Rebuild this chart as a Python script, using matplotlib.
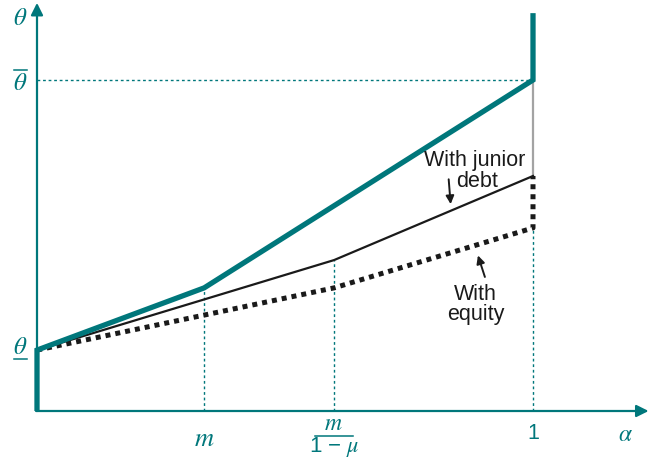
import matplotlib
matplotlib.use("Agg")
import matplotlib.pyplot as plt

plt.rcParams['mathtext.fontset'] = 'custom'
plt.rcParams['mathtext.rm'] = 'Liberation Sans'
plt.rcParams['mathtext.it'] = 'STIXGeneral:italic'
plt.rcParams['font.family'] = ['Liberation Sans', 'DejaVu Sans']

teal = '#00777b'
ink = '#1a1a1a'

# positions on the alpha axis
m = 0.337
m_mu = 0.599
x_ticks = [m, m_mu, 1.0]
# a tuple is drawn as numerator over denominator
x_labels = [r'$m$', (r'$m$', r'$1\,-\,\mu$'), '1']

# theta levels
theta_low = 0.184
theta_bar = 1.0
theta_top = 1.202

# cutoff curves
alpha_full = [0.0, 0.0, m, 1.0, 1.0]
cut_full = [0.0, theta_low, 0.372, theta_bar, theta_top]
alpha_debt = [0.0, m_mu, 1.0]
cut_debt = [theta_low, 0.456, 0.710]
alpha_eq = [0.0, m_mu, 1.0, 1.0]
cut_eq = [theta_low, 0.372, 0.553, 0.710]

fig = plt.figure(figsize=(6.54, 4.59), dpi=100)
ax = fig.add_axes([0, 0, 1, 1])
ax.set_xlim(-37 / 496, (654 - 37) / 496)
ax.set_ylim(-(459 - 411) / 331, 411 / 331)
ax.axis('off')

# axes with arrow heads
ax.annotate('', xy=(0, 1.233), xytext=(0, 0),
            arrowprops=dict(arrowstyle='-|>', color=teal, lw=1.6,
                            mutation_scale=18, shrinkA=0, shrinkB=0))
ax.annotate('', xy=(1.233, 0), xytext=(-0.002, 0),
            arrowprops=dict(arrowstyle='-|>', color=teal, lw=1.6,
                            mutation_scale=18, shrinkA=0, shrinkB=0))

# guide lines
dots = dict(color=teal, lw=1.0, ls=(0, (2, 2)))
ax.plot([0, 1], [theta_bar, theta_bar], **dots)
ax.plot([m, m], [0, cut_full[2]], **dots)
ax.plot([m_mu, m_mu], [0, cut_debt[1]], **dots)
ax.plot([1, 1], [0, cut_eq[2]], **dots)

# gap between full cutoff and junior debt at alpha = 1
ax.plot([1, 1], [theta_bar, cut_debt[2]], color='#a3a3a3', lw=1.6)

ax.plot(alpha_debt, cut_debt, color=ink, lw=1.6)
ax.plot(alpha_eq, cut_eq, color=ink, lw=3.6, ls=(0, (1, 1)),
        dash_capstyle='butt')
ax.plot(alpha_full, cut_full, color=teal, lw=3.8, solid_capstyle='butt',
        solid_joinstyle='miter')

# tick labels
for xv, lab in zip(x_ticks, x_labels):
    if isinstance(lab, tuple):
        ax.text(xv - 0.002, -0.040, lab[0], color=teal, fontsize=17,
                ha='center', va='center')
        ax.plot([xv - 0.039, xv + 0.038], [-0.0755, -0.0755], color=teal, lw=1.1)
        ax.text(xv, -0.123, lab[1], color=teal, fontsize=16,
                ha='center', va='baseline')
    elif lab.startswith('$'):
        ax.text(xv, -0.086, lab, color=teal, fontsize=19, ha='center', va='center')
    else:
        ax.text(xv, -0.067, lab, color=teal, fontsize=15.5, ha='center', va='center')
ax.text(1.187, -0.072, r'$\alpha$', color=teal, fontsize=17, ha='center', va='center')
ax.text(-0.034, 1.187, r'$\theta$', color=teal, fontsize=18, ha='center', va='center')
ax.text(-0.034, theta_bar - 0.008, r'$\theta$', color=teal, fontsize=18,
        ha='center', va='center')
ax.plot([-0.046, -0.020], [theta_bar + 0.03, theta_bar + 0.03], color=teal, lw=1.1)
ax.text(-0.034, theta_low + 0.01, r'$\theta$', color=teal, fontsize=18,
        ha='center', va='center')
ax.plot([-0.046, -0.020], [theta_low - 0.028, theta_low - 0.028], color=teal, lw=1.1)

# curve labels
ax.text(0.883, 0.758, 'With junior', color=ink, fontsize=15.5, ha='center', va='center')
ax.text(0.887, 0.692, 'debt', color=ink, fontsize=15.5, ha='center', va='center')
ax.annotate('', xy=(0.834, 0.625), xytext=(0.830, 0.70),
            arrowprops=dict(arrowstyle='-|>', color=ink, lw=1.4,
                            mutation_scale=12, shrinkA=0, shrinkB=0))
ax.text(0.883, 0.353, 'With', color=ink, fontsize=15.5, ha='center', va='center')
ax.text(0.885, 0.292, 'equity', color=ink, fontsize=15.5, ha='center', va='center')
ax.annotate('', xy=(0.889, 0.47), xytext=(0.903, 0.405),
            arrowprops=dict(arrowstyle='-|>', color=ink, lw=1.4,
                            mutation_scale=12, shrinkA=0, shrinkB=0))

fig.savefig('out.png', dpi=100)
